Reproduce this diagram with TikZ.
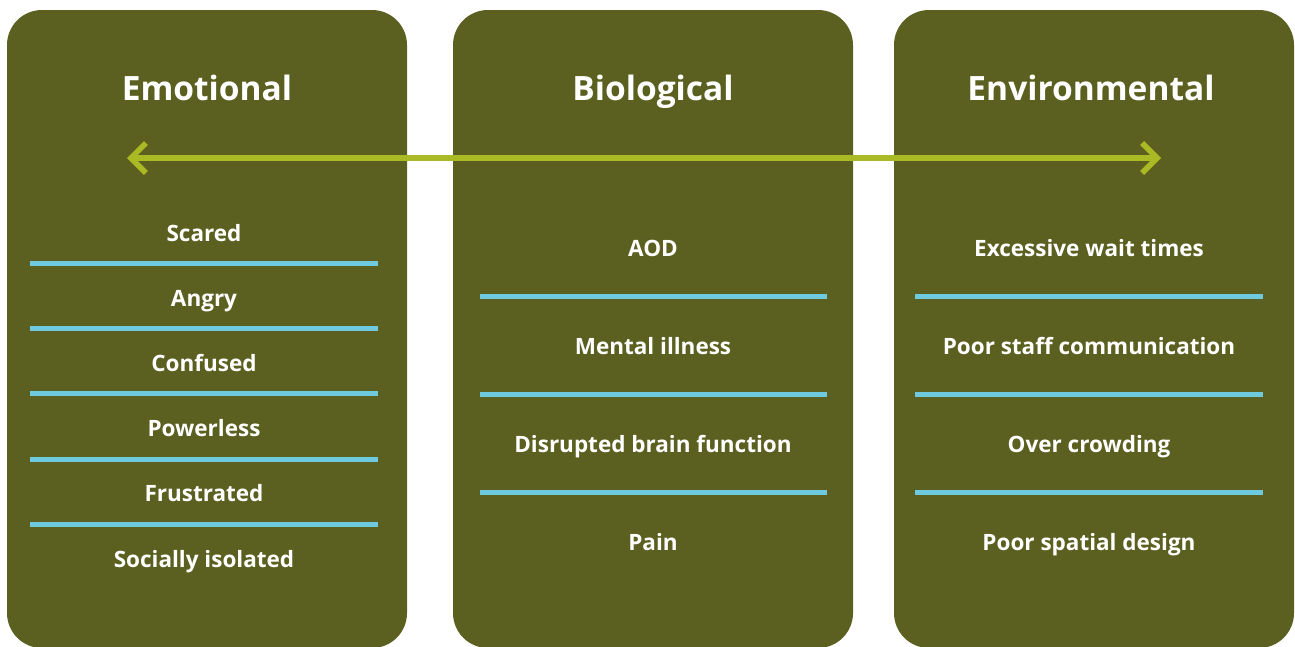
\documentclass[tikz,border=0pt]{standalone}
\usepackage{fontspec}
\setmainfont{Open Sans}
\usepackage{tikz}
\usetikzlibrary{arrows.meta, positioning}

\definecolor{olive}{HTML}{5B5F1F}
\definecolor{lime}{HTML}{A9BA24}
\definecolor{sky}{HTML}{6ECBDD}

\begin{document}
\begin{tikzpicture}[
    x=1pt, y=-1pt,
    panel/.style={fill=olive, rounded corners=35pt, minimum width=400pt, minimum height=638pt, inner sep=0pt},
    title/.style={text=white, text height=24pt, text depth=0pt, font=\fontsize{33.5}{36}\selectfont\bfseries},
    item/.style={text=white, text height=16pt, text depth=0pt, font=\fontsize{22.5}{24}\selectfont\bfseries},
    sep/.style={draw=sky, line width=5pt},
    both/.style={{Straight Barb[length=15pt,width=30pt]}-{Straight Barb[length=15pt,width=30pt]}, draw=lime, line width=5.5pt},
]
\useasboundingbox (0,0) rectangle (1295,646);
\node[panel] (emo) at (207,329) {};
\node[panel] (bio) at (653,329) {};
\node[panel] (env) at (1094,329) {};

\node[title] (emoT) at (207,88) {Emotional};
\node[title] (bioT) at (653,88) {Biological};
\node[title] (envT) at (1091,88) {Environmental};

\coordinate (arrL) at (127,158);
\coordinate (arrR) at (1161,158);
\draw[both] (arrL) -- (arrR);

% emotional list
\foreach \t [count=\i] in {Scared, Angry, Confused, Powerless, Frustrated, Socially isolated}
    \node[item] (emo\i) at (204,{233+65.2*(\i-1)}) {\t};
\foreach \y in {263,328,393,459,524}
    \draw[sep] (30,\y) -- (378,\y);

% biological list
\foreach \t [count=\i] in {AOD, Mental illness, Disrupted brain function, Pain}
    \node[item] (bio\i) at (653,{248+98.3*(\i-1)}) {\t};
\foreach \y in {296,394,492}
    \draw[sep] (480,\y) -- (827,\y);

% environmental list
\foreach \t [count=\i] in {Excessive wait times, Poor staff communication, Over crowding, Poor spatial design}
    \node[item] (env\i) at (1089,{248+98.3*(\i-1)}) {\t};
\foreach \y in {296,394,492}
    \draw[sep] (915,\y) -- (1263,\y);
\end{tikzpicture}
\end{document}
